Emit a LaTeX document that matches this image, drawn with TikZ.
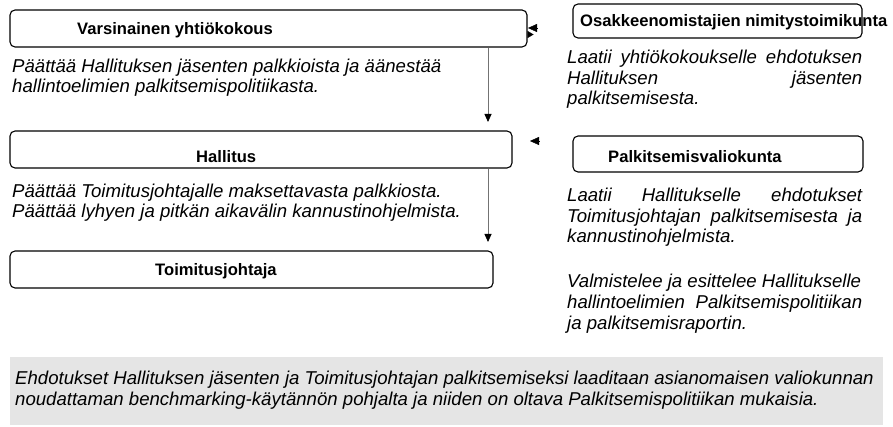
\documentclass[tikz,border=0pt]{standalone}
\usepackage{fontspec}
\setmainfont{Liberation Sans}
\usetikzlibrary{arrows.meta,calc}

\begin{document}
\begin{tikzpicture}[x=1pt,y=-1pt,
    box/.style={draw=black,line width=1.1pt,rounded corners=5pt,inner sep=0pt},
    title/.style={font=\fontsize{16.6}{19}\selectfont\bfseries,inner sep=0pt,anchor=base west},
    desc/.style={font=\fontsize{18.6}{20.6}\selectfont\itshape,inner sep=0pt,anchor=base west,align=left},
    flow/.style={draw=black!55,line width=0.8pt,-{Triangle[length=8pt,width=7pt,color=black]}},
    tipl/.style={draw=black,line width=0.3pt,-{Triangle[length=9pt,width=8pt]}}]
  \useasboundingbox (0,0) rectangle (893,427);
  % left column (desc nodes sit on the baseline of their last line)
  \node[box,minimum width=517pt,minimum height=37pt] (agm) at (268.5,28.5) {};
  \node[title] (agmt) at (77,35) {Varsinainen yhtiökokous};
  \node[desc] (agmd) at (12,93) {Päättää Hallituksen jäsenten palkkioista ja äänestää\\hallintoelimien palkitsemispolitiikasta.};
  \node[box,minimum width=502pt,minimum height=37pt] (board) at (261,149.5) {};
  \node[title] (boardt) at (196,163) {Hallitus};
  \node[desc] (boardd) at (12,218) {Päättää Toimitusjohtajalle maksettavasta palkkiosta.\\Päättää lyhyen ja pitkän aikavälin kannustinohjelmista.};
  \node[box,minimum width=483pt,minimum height=37pt] (ceo) at (251.5,269.5) {};
  \node[title] (ceot) at (155,276) {Toimitusjohtaja};
  % right column
  \node[box,minimum width=289pt,minimum height=34pt] (nom) at (717.5,21) {};
  \node[title] (nomt) at (580,27) {Osakkeenomistajien nimitystoimikunta};
  \node[desc] (nomd) at (567,105) {\makebox[295pt][s]{Laatii yhtiökokoukselle ehdotuksen}\\
    \makebox[295pt][s]{Hallituksen jäsenten}\\palkitsemisesta.};
  \node[box,minimum width=290pt,minimum height=36pt] (remco) at (718,154) {};
  \node[title] (remcot) at (608,163) {Palkitsemisvaliokunta};
  \node[desc] (remcod) at (567,243) {\makebox[295pt][s]{Laatii Hallitukselle ehdotukset}\\
    \makebox[295pt][s]{Toimitusjohtajan palkitsemisesta ja}\\kannustinohjelmista.};
  \node[desc] (remcoe) at (567,329) {Valmistelee ja esittelee Hallitukselle\\
    \makebox[295pt][s]{hallintoelimien Palkitsemispolitiikan}\\ja palkitsemisraportin.};
  % note at the bottom
  \node[fill=black!10,inner sep=0pt,minimum width=873pt,minimum height=68pt] (note) at (446.5,390.5) {};
  \node[desc] (notet) at (15,405) {Ehdotukset Hallituksen jäsenten ja Toimitusjohtajan palkitsemiseksi laaditaan asianomaisen valiokunnan\\noudattaman benchmarking-käytännön pohjalta ja niiden on oltava Palkitsemispolitiikan mukaisia.};
  % connectors
  \coordinate (f1) at (488,122);
  \coordinate (f2) at (488,242);
  \draw[flow] (agm.south -| f1) -- (f1);
  \draw[flow] (board.south -| f2) -- (f2);
  \coordinate (t1) at (528,28);
  \coordinate (t2) at (530,141);
  \draw[tipl] (t1) ++(9,0) -- (t1);
  \draw[tipl,-{Triangle[length=6pt,width=7pt]}] (agm.east) ++(0,6) -- ++(6,0);
  \draw[tipl] (t2) ++(9,0) -- (t2);
\end{tikzpicture}
\end{document}
